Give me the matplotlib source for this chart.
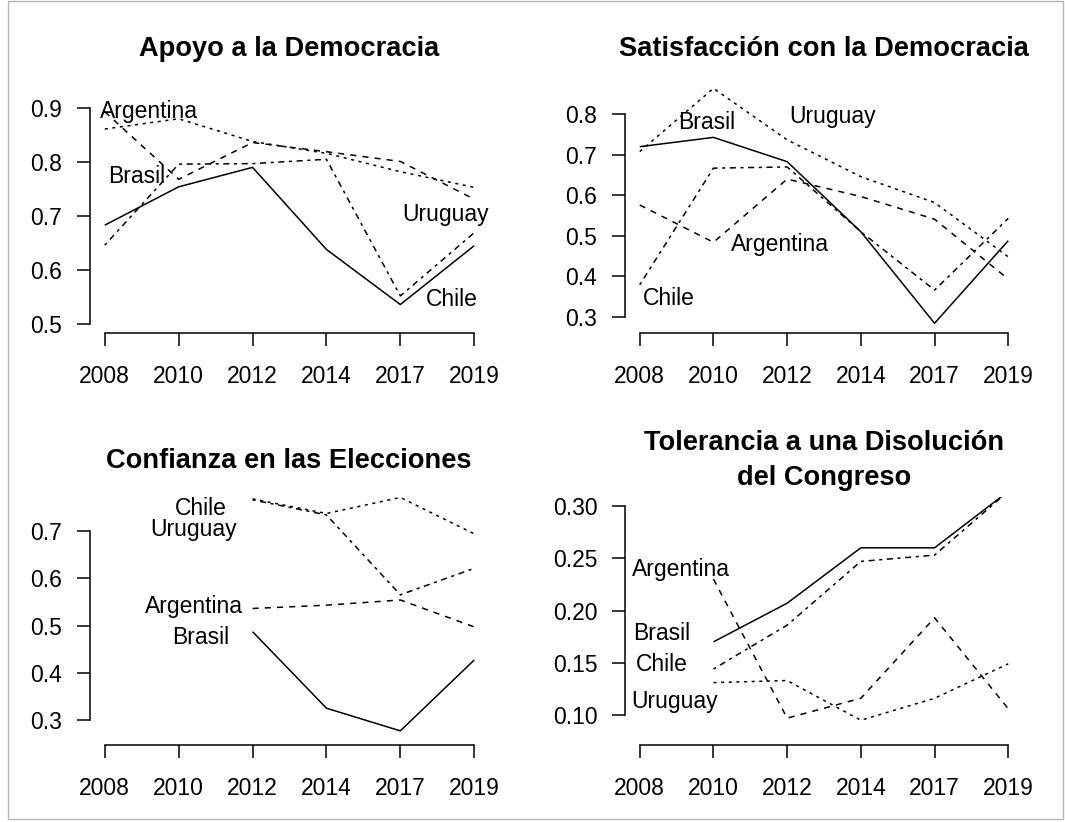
import numpy as np
import matplotlib.pyplot as plt
from matplotlib.patches import Rectangle

plt.rcParams['font.family'] = ['Liberation Sans', 'DejaVu Sans']

nan = np.nan
anios = ['2008', '2010', '2012', '2014', '2017', '2019']
paises = ['Argentina', 'Brasil', 'Chile', 'Uruguay']

# Apoyo a la Democracia
apoyo_arg = [0.893, 0.768, 0.836, 0.819, 0.801, 0.731]
apoyo_bra = [0.683, 0.754, 0.790, 0.638, 0.536, 0.645]
apoyo_chi = [0.646, 0.796, 0.797, 0.805, 0.552, 0.669]
apoyo_uru = [0.861, 0.880, 0.838, 0.816, 0.782, 0.753]

# Satisfacción con la Democracia
satis_arg = [0.576, 0.484, 0.640, 0.597, 0.541, 0.393]
satis_bra = [0.720, 0.743, 0.683, 0.510, 0.284, 0.488]
satis_chi = [0.379, 0.667, 0.670, 0.510, 0.366, 0.543]
satis_uru = [0.708, 0.864, 0.737, 0.646, 0.582, 0.448]

# Confianza en las Elecciones
conf_arg = [nan, nan, 0.536, 0.543, 0.554, 0.497]
conf_bra = [nan, nan, 0.487, 0.325, 0.277, 0.427]
conf_chi = [nan, nan, 0.766, 0.734, 0.565, 0.621]
conf_uru = [nan, nan, 0.768, 0.737, 0.771, 0.694]

# Tolerancia a una Disolución del Congreso
tol_arg = [nan, 0.230, 0.097, 0.116, 0.193, 0.106]
tol_bra = [nan, 0.170, 0.207, 0.260, 0.260, 0.314]
tol_chi = [nan, 0.144, 0.186, 0.247, 0.253, 0.314]
tol_uru = [nan, 0.131, 0.133, 0.095, 0.116, 0.149]

estilos = {
    'Argentina': (0, (4, 4)),
    'Brasil': '-',
    'Chile': (0, (2, 3, 4, 3)),
    'Uruguay': (0, (2, 3)),
}

W, H = 1065, 822
fig = plt.figure(figsize=(W / 100, H / 100), dpi=100)


def caja(izq, der, abajo, arriba):
    # coordenadas en pixeles, y medida desde arriba
    return [izq / W, 1 - abajo / H, (der - izq) / W, (abajo - arriba) / H]


paneles = [
    dict(titulo='Apoyo a la Democracia', rect=caja(90, 489, 333, 90),
         ylim=(0.4833, 0.9333), yt=[0.5, 0.6, 0.7, 0.8, 0.9], fmt='{:.1f}',
         datos=[apoyo_arg, apoyo_bra, apoyo_chi, apoyo_uru],
         etiquetas={'Argentina': (1.60, 0.881), 'Brasil': (1.43, 0.761),
                    'Uruguay': (5.61, 0.691), 'Chile': (5.70, 0.533)},
         tx=289, ty=55.5),
    dict(titulo='Satisfacción con la Democracia', rect=caja(625, 1023, 333, 75),
         ylim=(0.26, 0.897), yt=[0.3, 0.4, 0.5, 0.6, 0.7, 0.8], fmt='{:.1f}',
         datos=[satis_arg, satis_bra, satis_chi, satis_uru],
         etiquetas={'Brasil': (1.91, 0.764), 'Uruguay': (3.61, 0.779),
                    'Argentina': (2.90, 0.462), 'Chile': (1.39, 0.329)},
         tx=824, ty=55.5),
    dict(titulo='Confianza en las Elecciones', rect=caja(90, 489, 745, 488),
         ylim=(0.2471, 0.791), yt=[0.3, 0.4, 0.5, 0.6, 0.7], fmt='{:.1f}',
         datos=[conf_arg, conf_bra, conf_chi, conf_uru],
         etiquetas={'Chile': (2.294, 0.734), 'Uruguay': (2.199, 0.689),
                    'Argentina': (2.206, 0.526), 'Brasil': (2.294, 0.461)},
         tx=289, ty=467.5),
    dict(titulo='Tolerancia a una Disolución\ndel Congreso', rect=caja(625, 1023, 745, 496.7),
         ylim=(0.0713, 0.3089), yt=[0.10, 0.15, 0.20, 0.25, 0.30], fmt='{:.2f}',
         datos=[tol_arg, tol_bra, tol_chi, tol_uru],
         etiquetas={'Argentina': (1.564, 0.233), 'Brasil': (1.299, 0.1718),
                    'Chile': (1.299, 0.142), 'Uruguay': (1.476, 0.1067)},
         tx=824, ty=467.5),
]

x = np.arange(1, 7)
for p in paneles:
    ax = fig.add_axes(p['rect'])
    ax.patch.set_visible(False)
    for pais, serie in zip(paises, p['datos']):
        ax.plot(x, serie, color='black', lw=1.1, linestyle=estilos[pais],
                dash_capstyle='butt', solid_capstyle='butt')
    for pais, (ex, ey) in p['etiquetas'].items():
        ax.text(ex, ey, pais, ha='center', va='baseline', fontsize=16.5)
    ax.set_xlim(0.8, 6.2)
    ax.set_ylim(*p['ylim'])
    ax.set_xticks(x, anios)
    ax.set_yticks(p['yt'], [p['fmt'].format(v) for v in p['yt']])
    for s in ['top', 'right']:
        ax.spines[s].set_visible(False)
    ax.spines['left'].set_bounds(p['yt'][0], p['yt'][-1])
    ax.spines['bottom'].set_bounds(1, 6)
    for s in ['left', 'bottom']:
        ax.spines[s].set_linewidth(1.1)
    ax.tick_params(length=9.4, width=1.1, labelsize=16.5)
    ax.tick_params(axis='y', pad=10.5)
    ax.tick_params(axis='x', pad=13.5)

    lineas = p['titulo'].split('\n')
    salto = 35
    y0 = p['ty'] - salto * (len(lineas) - 1) / 2
    for i, linea in enumerate(lineas):
        fig.text(p['tx'] / W, 1 - (y0 + i * salto) / H, linea, ha='center',
                 va='baseline', fontsize=19.6, fontweight='bold')

fig.add_artist(Rectangle((8 / W, 1 - 819 / H), (1063 - 8) / W, (819 - 1) / H,
                         transform=fig.transFigure, fill=False,
                         edgecolor='#b4b4b4', lw=1))

fig.savefig('out.png', dpi=100)
